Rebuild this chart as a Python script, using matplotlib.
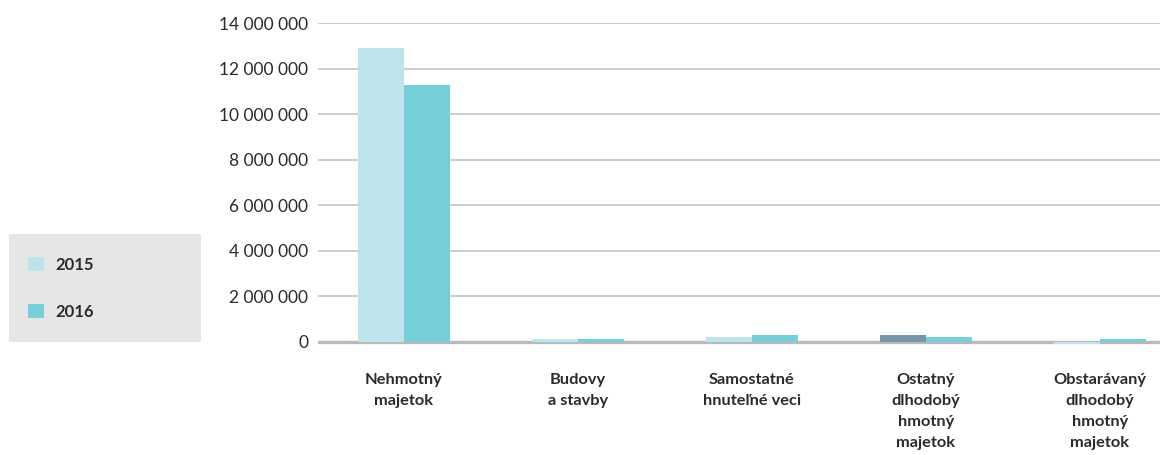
"""Dlhodobý majetok 2015 vs 2016 - grouped bar chart."""

import matplotlib
matplotlib.use("Agg")
import matplotlib.pyplot as plt
import numpy as np
from matplotlib.patches import Patch, Rectangle

categories = [
    "Nehmotný\nmajetok",
    "Budovy\na stavby",
    "Samostatné\nhnuteľné veci",
    "Ostatný\ndlhodobý\nhmotný\nmajetok",
    "Obstarávaný\ndlhodobý\nhmotný\nmajetok",
]
values_2015 = [12_900_000, 130_000, 220_000, 300_000, -110_000]
values_2016 = [11_270_000, 130_000, 300_000, 220_000, 130_000]
series_labels = ["2015", "2016"]
y_ticks = [0, 2_000_000, 4_000_000, 6_000_000, 8_000_000, 10_000_000,
           12_000_000, 14_000_000]

COLOR_2015 = "#bde4ea"
COLOR_2016 = "#76cfd6"
COLOR_HIGHLIGHT = "#7896a8"
TEXT = "#2b2b2b"

plt.rcParams["font.family"] = ["Lato", "DejaVu Sans"]


def fmt(v):
    return f"{int(v):,}".replace(",", " ")


def main():
    fig = plt.figure(figsize=(11.6, 4.55), dpi=100)
    ax = fig.add_axes([318 / 1160, 1 - 351 / 455, 1 - 318 / 1160,
                       (351 - 23) / 455])

    x = np.arange(len(categories))
    width = 0.264
    colors_2015 = [COLOR_2015] * len(categories)
    colors_2015[3] = COLOR_HIGHLIGHT  # darker bar in the original
    ax.bar(x - width / 2, values_2015, width, color=colors_2015, zorder=3)
    ax.bar(x + width / 2, values_2016, width, color=COLOR_2016, zorder=3)

    ax.set_xlim(-0.494, 4.345)
    ax.set_ylim(-400_000, 14_000_000)
    ax.set_yticks(y_ticks, [fmt(v) for v in y_ticks])
    for v in y_ticks[1:]:
        ax.axhline(v, color="#c9c9cb", lw=1.3, zorder=1)
    ax.axhline(0, color="#b9b9bb", lw=2.4, zorder=2)

    ax.set_xticks(x, categories, fontweight="bold", linespacing=1.62)
    ax.tick_params(axis="x", length=0, pad=16, labelsize=11.8, labelcolor=TEXT)
    ax.tick_params(axis="y", length=0, pad=7, labelsize=12.5, labelcolor=TEXT)
    for spine in ax.spines.values():
        spine.set_visible(False)

    # legend box on the left
    fig.patches.append(Rectangle((9 / 1160, 1 - 342 / 455), 192 / 1160,
                                 108 / 455, transform=fig.transFigure,
                                 facecolor="#e5e6e8", edgecolor="none",
                                 zorder=0))
    handles = [Patch(facecolor=COLOR_2015), Patch(facecolor=COLOR_2016)]
    fig.legend(handles, series_labels, loc="upper left",
               bbox_to_anchor=(28 / 1160, 1 - 257 / 455), frameon=False,
               handlelength=0.95, handleheight=0.95, handletextpad=0.7,
               labelspacing=1.85, borderpad=0, borderaxespad=0,
               prop={"weight": "bold", "size": 12}, labelcolor=TEXT)

    fig.savefig("out.png", dpi=100)
    plt.close(fig)


if __name__ == "__main__":
    main()
